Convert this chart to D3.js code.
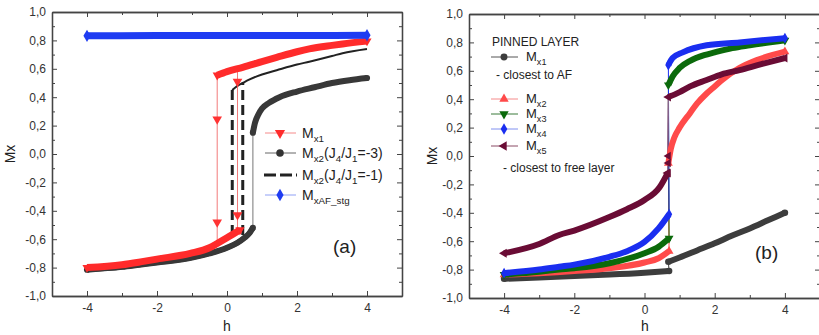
<!DOCTYPE html>
<html>
<head>
<meta charset="utf-8">
<script src="https://cdn.jsdelivr.net/npm/d3@7"></script>
<style>
  body { margin: 0; background: #fff; }
  svg { font-family: "Liberation Sans", Arial, sans-serif; }
  .tick text { font-size: 12px; fill: #333; }
  .axis path, .axis line { stroke: #444; }
</style>
</head>
<body>
<div id="chart"></div>
<script>
// ---------- tick labels ----------
const xTicks = [-4, -2, 0, 2, 4];
const xTickLabels = ['-4', '-2', '0', '2', '4'];
const yTicks = [-1, -0.8, -0.6, -0.4, -0.2, 0, 0.2, 0.4, 0.6, 0.8, 1];
const yTickLabels = ['-1,0', '-0,8', '-0,6', '-0,4', '-0,2', '0,0', '0,2', '0,4', '0,6', '0,8', '1,0'];

// ---------- panel (a) ----------
// Mx1: upper (descending) branch and lower (ascending) branch
const a_mx1UpH = [-0.28, 0, 0.45, 1, 1.42, 2, 2.35, 3, 3.3, 4];
const a_mx1UpV = [0.555, 0.58, 0.61, 0.65, 0.68, 0.72, 0.74, 0.765, 0.775, 0.795];
const a_mx1LoH = [-4, -3, -2.47, -2, -1.05, -0.5, -0.28, 0, 0.37];
const a_mx1LoV = [-0.80, -0.78, -0.76, -0.74, -0.70, -0.66, -0.63, -0.59, -0.535];
// jump points of Mx1
const a_mx1DownH = [-0.28, -0.28, -0.28, -0.28];
const a_mx1DownV = [0.555, 0.245, -0.48, -0.63];
const a_mx1RiseH = [0.3, 0.3, 0.3, 0.3];
const a_mx1RiseV = [-0.55, -0.43, 0.51, 0.60];
// Mx2 (J4/J1=-3)
const a_m3LoH = [-4, -3, -2.5, -2, -1, -0.5, 0, 0.3, 0.5, 0.65, 0.74];
const a_m3LoV = [-0.815, -0.795, -0.78, -0.765, -0.73, -0.70, -0.66, -0.625, -0.59, -0.555, -0.52];
const a_m3UpH = [0.74, 0.8, 0.9, 1.0, 1.2, 1.5, 2, 2.5, 3, 3.5, 4];
const a_m3UpV = [0.15, 0.22, 0.28, 0.32, 0.36, 0.40, 0.44, 0.47, 0.50, 0.52, 0.535];
// Mx2 (J4/J1=-1)
const a_m1UpH = [0.15, 0.3, 0.45, 0.6, 1, 1.42, 2, 2.35, 3, 3.3, 4];
const a_m1UpV = [0.45, 0.48, 0.50, 0.52, 0.56, 0.59, 0.63, 0.65, 0.69, 0.71, 0.74];
const a_m1DownH = [0.15, 0.15];
const a_m1DownV = [0.45, -0.58];
const a_m1RiseH = [0.45, 0.45];
const a_m1RiseV = [-0.57, 0.50];
// MxAF_stg
const a_afH = [-4, -2, 0, 2, 4];
const a_afV = [0.832, 0.834, 0.835, 0.835, 0.836];

// ---------- panel (b) ----------
const b_m1LoH = [-4, -3, -2, -1, 0, 0.7];
const b_m1LoV = [-0.865, -0.855, -0.845, -0.835, -0.822, -0.81];
const b_m1UpH = [0.68, 1, 1.5, 2, 2.5, 3, 3.5, 4];
const b_m1UpV = [-0.745, -0.715, -0.665, -0.615, -0.56, -0.51, -0.455, -0.40];

const b_m2LoH = [-4, -3, -2, -1, 0, 0.4, 0.7];
const b_m2LoV = [-0.835, -0.825, -0.81, -0.79, -0.75, -0.72, -0.67];
const b_m2UpH = [0.68, 0.75, 0.85, 1.0, 1.29, 1.5, 1.77, 2.0, 2.23, 2.71, 3.2, 4];
const b_m2UpV = [-0.05, 0.05, 0.13, 0.2, 0.3, 0.37, 0.44, 0.49, 0.54, 0.62, 0.675, 0.735];

const b_m3LoH = [-4, -3, -2.43, -2, -1, 0, 0.4, 0.7];
const b_m3LoV = [-0.835, -0.815, -0.80, -0.79, -0.755, -0.685, -0.64, -0.58];
const b_m3UpH = [0.68, 0.8, 1.0, 1.3, 1.7, 2, 2.5, 3, 4];
const b_m3UpV = [0.50, 0.56, 0.62, 0.67, 0.71, 0.73, 0.76, 0.78, 0.815];

const b_m4LoH = [-4, -3, -2.43, -2, -1, -0.5, 0, 0.4, 0.7];
const b_m4LoV = [-0.825, -0.80, -0.78, -0.765, -0.71, -0.67, -0.605, -0.51, -0.41];
const b_m4UpH = [0.68, 0.8, 1.09, 1.77, 2.71, 4];
const b_m4UpV = [0.64, 0.69, 0.73, 0.78, 0.80, 0.83];

const b_m5LoH = [-4, -3, -2.43, -2, -1, -0.5, 0, 0.43, 0.66];
const b_m5LoV = [-0.685, -0.62, -0.556, -0.525, -0.43, -0.375, -0.31, -0.22, -0.12];
const b_m5UpH = [0.68, 1.0, 1.3, 1.77, 2.2, 2.71, 3.3, 4];
const b_m5UpV = [0.415, 0.45, 0.49, 0.535, 0.575, 0.605, 0.645, 0.69];
const b_m5JumpH = [0.68, 0.68, 0.68];
const b_m5JumpV = [-0.12, -0.05, 0.0];

const pts = (hs, vs) => hs.map((h, i) => [h, vs[i]]);
const ends = (arr) => [arr[0], arr[arr.length - 1]];

const svg = d3.select('#chart').append('svg')
  .attr('width', 819).attr('height', 335);

const shapes = {
  down: d3.symbolTriangle, up: d3.symbolTriangle, left: d3.symbolTriangle,
  circle: d3.symbolCircle, diamond: d3.symbolDiamond
};
const sym = (shape, s) => d3.symbol(shapes[shape], s)();
const rot = { down: 180, up: 0, circle: 0, diamond: 0, left: -90 };

function makePanel(xr, yr) {
  const x = d3.scaleLinear().domain([-5, 5]).range(xr);
  const y = d3.scaleLinear().domain([-1, 1]).range(yr);
  const g = svg.append('g');
  const fmtY = d => yTickLabels[yTicks.findIndex(t => Math.abs(t - d) < 1e-9)];
  const fmtX = d => xTickLabels[xTicks.indexOf(d)];
  const minorX = [-5, -3, -1, 1, 3, 5];
  const minorY = [-0.9, -0.7, -0.5, -0.3, -0.1, 0.1, 0.3, 0.5, 0.7, 0.9];

  const axes = g.append('g').attr('class', 'axis');
  axes.append('g').attr('transform', `translate(0,${yr[0]})`)
    .call(d3.axisBottom(x).tickValues(xTicks).tickSizeInner(-5).tickSizeOuter(0).tickPadding(7).tickFormat(fmtX));
  axes.append('g').attr('transform', `translate(0,${yr[0]})`)
    .call(d3.axisBottom(x).tickValues(minorX).tickSizeInner(-3).tickSizeOuter(0).tickFormat(''));
  axes.append('g').attr('transform', `translate(0,${yr[1]})`)
    .call(d3.axisTop(x).tickValues(xTicks).tickSizeInner(-5).tickSizeOuter(0).tickFormat(''));
  axes.append('g').attr('transform', `translate(0,${yr[1]})`)
    .call(d3.axisTop(x).tickValues(minorX).tickSizeInner(-3).tickSizeOuter(0).tickFormat(''));
  axes.append('g').attr('transform', `translate(${xr[0]},0)`)
    .call(d3.axisLeft(y).tickValues(yTicks).tickSizeInner(-5).tickSizeOuter(0).tickPadding(6).tickFormat(fmtY));
  axes.append('g').attr('transform', `translate(${xr[0]},0)`)
    .call(d3.axisLeft(y).tickValues(minorY).tickSizeInner(-3).tickSizeOuter(0).tickFormat(''));
  axes.append('g').attr('transform', `translate(${xr[1]},0)`)
    .call(d3.axisRight(y).tickValues(yTicks).tickSizeInner(-5).tickSizeOuter(0).tickFormat(''));
  axes.append('g').attr('transform', `translate(${xr[1]},0)`)
    .call(d3.axisRight(y).tickValues(minorY).tickSizeInner(-3).tickSizeOuter(0).tickFormat(''));
  axes.selectAll('path.domain').attr('stroke-width', 1.3);

  const marks = g.append('g');
  const band = (data, color, width) => {
    const line = d3.line().x(d => x(d[0])).y(d => y(d[1])).curve(d3.curveMonotoneX);
    marks.append('path').datum(data).attr('d', line)
      .attr('fill', 'none').attr('stroke', color).attr('stroke-width', width);
  };
  const thin = (data, color, width, dash) => {
    const line = d3.line().x(d => x(d[0])).y(d => y(d[1]));
    marks.append('path').datum(data).attr('d', line)
      .attr('fill', 'none').attr('stroke', color).attr('stroke-width', width)
      .attr('stroke-dasharray', dash || null);
  };
  const dots = (data, color, shape, size) => {
    marks.selectAll(null).data(data).enter().append('path')
      .attr('d', sym(shape, size))
      .attr('transform', d => `translate(${x(d[0])},${y(d[1])}) rotate(${rot[shape]})`)
      .attr('fill', color);
  };
  return { x, y, g, band, thin, dots };
}

function legendLabel(g, xPos, yPos, parts, size) {
  const t = g.append('text').attr('x', xPos).attr('y', yPos).attr('font-size', size).attr('fill', '#222');
  parts.forEach(p => {
    if (p.sub) {
      t.append('tspan').attr('font-size', size * 0.7).attr('dy', 4).text(p.sub);
    } else {
      t.append('tspan').attr('dy', p.after ? -4 : 0).text(p.t);
    }
  });
}

// ===== panel (a) =====
const A = makePanel([52, 402], [296, 12]);
// Mx2 J4/J1=-1 (dashed): branches + jumps
A.band(pts(a_m3LoH, a_m3LoV), '#222', 5);
A.band(pts(a_m1UpH, a_m1UpV), '#222', 2);
A.thin(pts(a_m1DownH, a_m1DownV), '#222', 3, '10,5');
A.thin(pts(a_m1RiseH, a_m1RiseV), '#222', 3, '10,5');
// Mx2 J4/J1=-3
A.thin([[a_m3LoH[a_m3LoH.length - 1], a_m3LoV[a_m3LoV.length - 1]], [a_m3UpH[0], a_m3UpV[0]]], '#777', 1);
A.band(pts(a_m3LoH, a_m3LoV), '#383838', 6);
A.band(pts(a_m3UpH, a_m3UpV), '#383838', 6);
A.dots(ends(pts(a_m3UpH, a_m3UpV)), '#383838', 'circle', 30);
A.dots(ends(pts(a_m3LoH, a_m3LoV)), '#383838', 'circle', 30);
// Mx1
A.thin(pts(a_mx1DownH, a_mx1DownV), '#f27a7a', 1);
A.thin(pts(a_mx1RiseH, a_mx1RiseV), '#f27a7a', 1);
A.band(pts(a_mx1LoH, a_mx1LoV), '#ff2b2b', 7);
A.band(pts(a_mx1UpH, a_mx1UpV), '#ff2b2b', 7);
A.dots(ends(pts(a_mx1UpH, a_mx1UpV)), '#ff2b2b', 'down', 36);
A.dots(ends(pts(a_mx1LoH, a_mx1LoV)), '#ff2b2b', 'down', 36);
A.dots(pts(a_mx1DownH, a_mx1DownV).slice(1, 3), '#ff3333', 'down', 40);
A.dots(pts(a_mx1RiseH, a_mx1RiseV).slice(1, 3), '#ff3333', 'down', 40);
// MxAF_stg
A.band(pts(a_afH, a_afV), '#1f3cf2', 7);
A.dots(ends(pts(a_afH, a_afV)), '#1f3cf2', 'diamond', 44);

// legend (a)
const LA = A.g.append('g');
LA.append('line').attr('x1', 265).attr('x2', 296).attr('y1', 133).attr('y2', 133).attr('stroke', '#f58a8a');
LA.append('path').attr('d', sym('down', 45)).attr('transform', 'translate(280,133) rotate(180)').attr('fill', '#ff2b2b');
legendLabel(LA, 302, 138, [{ t: 'M' }, { sub: 'x1' }], 14);
LA.append('line').attr('x1', 265).attr('x2', 296).attr('y1', 153).attr('y2', 153).attr('stroke', '#666');
LA.append('path').attr('d', sym('circle', 45)).attr('transform', 'translate(280,153)').attr('fill', '#333');
legendLabel(LA, 302, 158, [{ t: 'M' }, { sub: 'x2' }, { t: '(J', after: true }, { sub: '4' }, { t: '/J', after: true }, { sub: '1' }, { t: '=-3)', after: true }], 14);
LA.append('line').attr('x1', 264).attr('x2', 297).attr('y1', 175).attr('y2', 175)
  .attr('stroke', '#222').attr('stroke-width', 3).attr('stroke-dasharray', '12,4');
legendLabel(LA, 302, 180, [{ t: 'M' }, { sub: 'x2' }, { t: '(J', after: true }, { sub: '4' }, { t: '/J', after: true }, { sub: '1' }, { t: '=-1)', after: true }], 14);
LA.append('line').attr('x1', 265).attr('x2', 296).attr('y1', 195).attr('y2', 195).attr('stroke', '#8fa0f5');
LA.append('path').attr('d', sym('diamond', 45)).attr('transform', 'translate(280,195)').attr('fill', '#1f3cf2');
legendLabel(LA, 302, 200, [{ t: 'M' }, { sub: 'xAF_stg' }], 14);
A.g.append('text').attr('x', 333).attr('y', 253).attr('font-size', 19).attr('fill', '#222').text('(a)');

// ===== panel (b) =====
const B = makePanel([469, 820], [298, 14]);
const series = [
  { lo: pts(b_m1LoH, b_m1LoV), up: pts(b_m1UpH, b_m1UpV), color: '#3d3d3d', shape: 'circle' },
  { lo: pts(b_m2LoH, b_m2LoV), up: pts(b_m2UpH, b_m2UpV), color: '#ff4a4a', shape: 'up' },
  { lo: pts(b_m3LoH, b_m3LoV), up: pts(b_m3UpH, b_m3UpV), color: '#0b6a0b', shape: 'down' },
  { lo: pts(b_m4LoH, b_m4LoV), up: pts(b_m4UpH, b_m4UpV), color: '#1a2ef0', shape: 'diamond' },
  { lo: pts(b_m5LoH, b_m5LoV), up: pts(b_m5UpH, b_m5UpV), color: '#6a0c35', shape: 'left' }
];
series.forEach(s => {
  B.thin([s.lo[s.lo.length - 1], s.up[0]], s.color, 1);
});
B.thin([[b_m5LoH[b_m5LoH.length - 1], b_m5LoV[b_m5LoV.length - 1]], [b_m5UpH[0], b_m5UpV[0]]], '#8a7095', 1.2);
series.forEach(s => {
  B.band(s.lo, s.color, 6);
  B.band(s.up, s.color, 6);
  B.dots(ends(s.lo), s.color, s.shape, 34);
  B.dots(ends(s.up), s.color, s.shape, 34);
});
B.dots(pts(b_m5JumpH, b_m5JumpV), '#6a0c35', 'left', 30);

// legend (b)
const LB = B.g.append('g');
LB.append('text').attr('x', 492).attr('y', 46).attr('font-size', 12).attr('fill', '#222').text('PINNED LAYER');
const legRows = [
  { y: 57, color: '#3d3d3d', line: '#555', shape: 'circle', sub: 'x1' },
  { y: 99, color: '#ff4a4a', line: '#f58a8a', shape: 'up', sub: 'x2' },
  { y: 114, color: '#0b6a0b', line: '#3a7a3a', shape: 'down', sub: 'x3' },
  { y: 129, color: '#1a2ef0', line: '#8090f0', shape: 'diamond', sub: 'x4' },
  { y: 146, color: '#6a0c35', line: '#8a4a65', shape: 'left', sub: 'x5' }
];
legRows.forEach(r => {
  LB.append('line').attr('x1', 491).attr('x2', 518).attr('y1', r.y).attr('y2', r.y).attr('stroke', r.line);
  LB.append('path').attr('d', sym(r.shape, 38))
    .attr('transform', `translate(504,${r.y}) rotate(${rot[r.shape]})`).attr('fill', r.color);
  legendLabel(LB, 526, r.y + 4, [{ t: 'M' }, { sub: r.sub }], 13);
});
LB.append('text').attr('x', 496).attr('y', 79).attr('font-size', 12).attr('fill', '#222').text('- closest to AF');
LB.append('text').attr('x', 503).attr('y', 172).attr('font-size', 12).attr('fill', '#222').text('- closest to free layer');
B.g.append('text').attr('x', 755).attr('y', 259).attr('font-size', 19).attr('fill', '#222').text('(b)');

// axis titles
svg.append('text').attr('transform', 'translate(15,154) rotate(-90)').attr('text-anchor', 'middle')
  .attr('font-size', 14).attr('fill', '#222').text('Mx');
svg.append('text').attr('transform', 'translate(437,156) rotate(-90)').attr('text-anchor', 'middle')
  .attr('font-size', 14).attr('fill', '#222').text('Mx');
svg.append('text').attr('x', 227).attr('y', 331).attr('text-anchor', 'middle')
  .attr('font-size', 14).attr('fill', '#222').text('h');
svg.append('text').attr('x', 645).attr('y', 331).attr('text-anchor', 'middle')
  .attr('font-size', 14).attr('fill', '#222').text('h');
</script>
</body>
</html>
